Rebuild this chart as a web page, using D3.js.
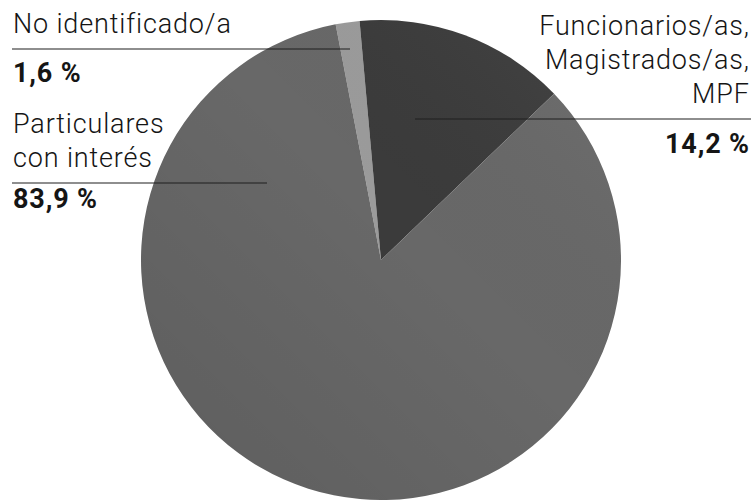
<!DOCTYPE html>
<html>
<head>
<meta charset="utf-8">
<script src="https://cdn.jsdelivr.net/npm/d3@7"></script>
<style>
  html, body { margin: 0; padding: 0; background: #fff; }
  svg { display: block; }
  text { font-family: Roboto, "DejaVu Sans", sans-serif; fill: #151515; }
</style>
</head>
<body>
<svg id="chart" width="751" height="500"></svg>
<script>
// Reporting source of requests, share in percent
const categories = ["No identificado/a", "Funcionarios/as, Magistrados/as, MPF", "Particulares con interés"];
const values = [1.6, 14.2, 83.9];
const labelLines = [
  ["No identificado/a"],
  ["Funcionarios/as,", "Magistrados/as,", "MPF"],
  ["Particulares", "con interés"]
];
const sliceColors = ["#9b9b9b", "#3b3b3b", "#686868"];

const svg = d3.select("#chart");
const cx = 381, cy = 260, radius = 240;

const fmt = v => d3.format(".1f")(v).replace(".", ",") + " %";

const defs = svg.append("defs");
const shade = defs.append("linearGradient")
  .attr("id", "shade")
  .attr("x1", "0%").attr("y1", "100%")
  .attr("x2", "100%").attr("y2", "0%");
shade.append("stop").attr("offset", "0%").attr("stop-color", "#000").attr("stop-opacity", 0.1);
shade.append("stop").attr("offset", "55%").attr("stop-color", "#000").attr("stop-opacity", 0);
shade.append("stop").attr("offset", "100%").attr("stop-color", "#fff").attr("stop-opacity", 0.06);

const startAngle = -10.9 * Math.PI / 180;
const pie = d3.pie()
  .sort(null)
  .value(d => d)
  .startAngle(startAngle)
  .endAngle(startAngle + 2 * Math.PI);

const arc = d3.arc().innerRadius(0).outerRadius(radius);

const g = svg.append("g").attr("transform", `translate(${cx},${cy})`);
g.selectAll("path.slice")
  .data(pie(values))
  .join("path")
  .attr("class", "slice")
  .attr("d", arc)
  .attr("fill", (d, i) => sliceColors[i]);

// soft light falloff over the whole disc
g.append("circle")
  .attr("r", radius)
  .attr("fill", "url(#shade)");

// Label blocks: text lines, a rule, then the bold percentage
const lineH = 34;
const fontSize = 27;
const spacing = 0.85;
const blocks = [
  { idx: 0, anchor: "start", x: 13, firstBase: 33, ruleY: 49, ruleX1: 12, ruleX2: 350, valBase: 82 },
  { idx: 1, anchor: "end", x: 749, firstBase: 35, ruleY: 119, ruleX1: 415, ruleX2: 751, valBase: 153 },
  { idx: 2, anchor: "start", x: 13, firstBase: 133, ruleY: 183, ruleX1: 12, ruleX2: 267, valBase: 208 }
];

const labels = svg.append("g");
blocks.forEach(b => {
  const grp = labels.append("g");
  // trailing letter-spacing shifts end-anchored text left; compensate
  const tx = b.anchor === "end" ? b.x + spacing : b.x;
  labelLines[b.idx].forEach((t, j) => {
    grp.append("text")
      .attr("x", tx)
      .attr("y", b.firstBase + j * lineH)
      .attr("text-anchor", b.anchor)
      .attr("font-size", fontSize)
      .attr("font-weight", 300)
      .attr("letter-spacing", spacing)
      .text(t);
  });
  grp.append("line")
    .attr("x1", b.ruleX1).attr("x2", b.ruleX2)
    .attr("y1", b.ruleY).attr("y2", b.ruleY)
    .attr("stroke", "#1e1e1e")
    .attr("stroke-width", 1.2);
  grp.append("text")
    .attr("x", tx)
    .attr("y", b.valBase)
    .attr("text-anchor", b.anchor)
    .attr("font-size", fontSize)
    .attr("font-weight", 700)
    .attr("letter-spacing", spacing)
    .text(fmt(values[b.idx]));
});
</script>
</body>
</html>
